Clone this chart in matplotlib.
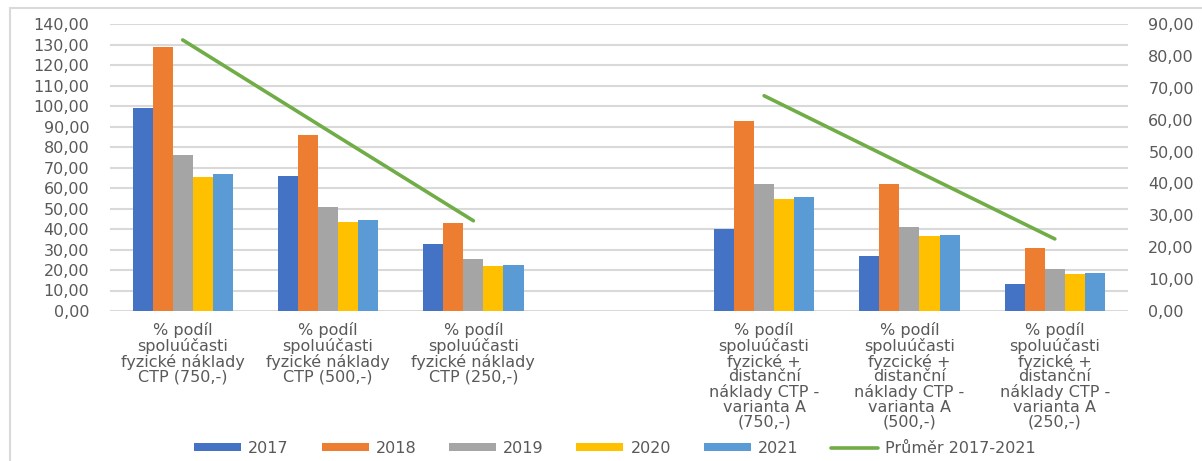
import numpy as np
import matplotlib
matplotlib.use("Agg")
import matplotlib.pyplot as plt
from matplotlib.ticker import FuncFormatter, MultipleLocator
from matplotlib.patches import Rectangle

categories = [
    "% podíl\nspoluúčasti\nfyzické náklady\nCTP (750,-)",
    "% podíl\nspoluúčasti\nfyzické náklady\nCTP (500,-)",
    "% podíl\nspoluúčasti\nfyzické náklady\nCTP (250,-)",
    "",
    "% podíl\nspoluúčasti\nfyzické +\ndistanční\nnáklady CTP -\nvarianta A\n(750,-)",
    "% podíl\nspoluúčasti\nfyzcické +\ndistanční\nnáklady CTP -\nvarianta A\n(500,-)",
    "% podíl\nspoluúčasti\nfyzické +\ndistanční\nnáklady CTP -\nvarianta A\n(250,-)",
]
years = ["2017", "2018", "2019", "2020", "2021"]
v2017 = [98.9, 66.0, 32.8, np.nan, 39.8, 26.7, 13.0]
v2018 = [128.6, 85.7, 43.1, np.nan, 92.8, 61.8, 30.9]
v2019 = [75.9, 50.6, 25.2, np.nan, 61.8, 41.0, 20.5]
v2020 = [65.2, 43.6, 22.0, np.nan, 54.8, 36.4, 18.2]
v2021 = [67.0, 44.5, 22.3, np.nan, 55.8, 37.1, 18.5]
prumer = [85.0, 56.6, 28.3, np.nan, 67.5, 45.0, 22.6]
line_label = "Průměr 2017-2021"

colors = ["#4472C4", "#ED7D31", "#A5A5A5", "#FFC000", "#5B9BD5"]
line_color = "#70AD47"
text_color = "#595959"
grid_color = "#D9D9D9"

plt.rcParams['font.family'] = 'sans-serif'
plt.rcParams['font.sans-serif'] = ['DejaVu Sans']
FS = 11.5
W, H = 1202, 461
fig = plt.figure(figsize=(W / 100, H / 100), dpi=100)
ax = fig.add_axes([110 / W, 1 - 311 / H, (1127.5 - 110) / W, (311 - 24) / H])

series = [v2017, v2018, v2019, v2020, v2021]
x = np.arange(len(categories))
bw = 0.138
for i, (vals, c, lab) in enumerate(zip(series, colors, years)):
    ax.bar(x + (i - 2) * bw, vals, width=bw, color=c, label=lab, zorder=3)

ax.set_xlim(-0.5, len(categories) - 0.5)
ax.set_ylim(0, 140)
ax.yaxis.set_major_locator(MultipleLocator(10))
fmt = FuncFormatter(lambda v, p: f"{v:.2f}".replace(".", ","))
ax.yaxis.set_major_formatter(fmt)
ax.grid(axis="y", color=grid_color, linewidth=1.5, zorder=0)
ax.set_axisbelow(True)
for s in ax.spines.values():
    s.set_visible(False)
ax.set_xticks(x)
ax.set_xticklabels(categories, fontsize=FS, color=text_color, linespacing=0.98)
ax.tick_params(axis="x", length=0, pad=8)
ax.tick_params(axis="y", length=0, pad=15, labelsize=FS, labelcolor=text_color)

ax2 = ax.twinx()
ax2.plot(x, prumer, color=line_color, linewidth=2.6, label=line_label,
         solid_capstyle="round")
ax2.set_ylim(0, 90)
ax2.yaxis.set_major_locator(MultipleLocator(10))
ax2.yaxis.set_major_formatter(fmt)
for s in ax2.spines.values():
    s.set_visible(False)
ax2.tick_params(axis="y", length=0, pad=15, labelsize=FS, labelcolor=text_color)

h1, l1 = ax.get_legend_handles_labels()
h2, l2 = ax2.get_legend_handles_labels()
leg = fig.legend(h1 + h2, l1 + l2, loc="center", bbox_to_anchor=(615 / W, 1 - 448 / H),
                 ncol=6, frameon=False, fontsize=FS, handlelength=2.94,
                 handleheight=0.45, handletextpad=0.44, columnspacing=2.05)
for t in leg.get_texts():
    t.set_color(text_color)

fig.patches.append(Rectangle((10 / W, -0.1), 1.2, 1 - 8 / H + 0.1,
                             transform=fig.transFigure, fill=False,
                             edgecolor=grid_color, linewidth=1.5))

fig.savefig("out.png", dpi=100)
